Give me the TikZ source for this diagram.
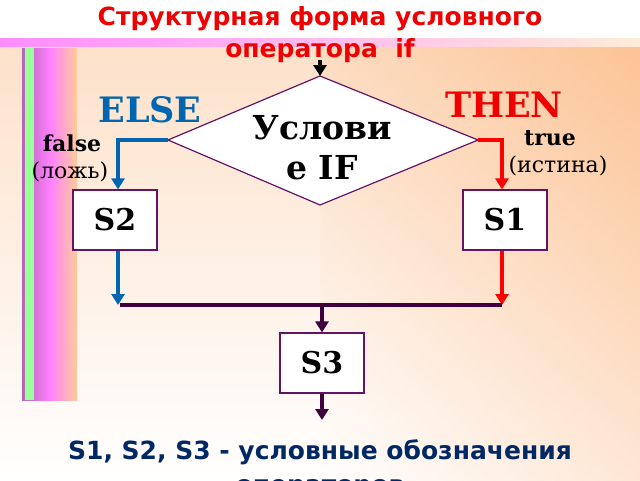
\documentclass[tikz,border=0pt]{standalone}
\usepackage{fontspec}
\setmainfont{DejaVu Serif}
\newfontfamily\dsans{DejaVu Sans}
\usetikzlibrary{arrows.meta}
\definecolor{ttl}{RGB}{240,0,0}
\definecolor{elsec}{RGB}{0,102,176}
\definecolor{bord}{RGB}{100,20,100}
\definecolor{bar}{RGB}{64,0,64}
\definecolor{navy}{RGB}{0,40,100}
\definecolor{peach}{RGB}{252,196,150}
\begin{document}
\begin{tikzpicture}[x=1pt,y=-1pt,
  box/.style={draw=bord,line width=1.2pt,fill=white,minimum width=84pt,minimum height=60pt,font=\bfseries\fontsize{30}{32}\selectfont},
  blk/.style={line width=3.5pt,-{Triangle[length=11pt,width=13pt]}},
  lbl/.style={font=\bfseries\fontsize{22}{24}\selectfont}]
\useasboundingbox (0,0) rectangle (640,480);
\shade[top color=peach,bottom color=white] (0,46) rectangle (640,480);
\shade[left color=white,right color=white,opacity=0.5] (0,46) rectangle (320,480);
\shade[left color=white,right color=peach,opacity=0.4] (320,46) rectangle (640,480);
\fill[white] (0,0) rectangle (640,38);
\shade[left color=magenta!45,right color=orange!15] (0,38) rectangle (640,46);
\shade[left color=violet!60,right color=orange!40,middle color=magenta!50] (22,48) rectangle (77,400);
\fill[green!40] (25,48) rectangle (34,400);
\node[font=\dsans\bfseries\fontsize{25}{32}\selectfont,text=ttl,align=center] (title) at (320,35) {Структурная форма условного\\оператора\ \ if};
\coordinate (in) at (320,60);
\coordinate (dt) at (320,76);
\coordinate (dl) at (168,140);
\coordinate (dr) at (478,140);
\coordinate (db) at (320,205);
\draw[draw=bord,line width=1.2pt,fill=white] (dt)--(dr)--(db)--(dl)--cycle;
\node[align=center,font=\bfseries\fontsize{33}{40}\selectfont] (cond) at (322,148) {Услови\\е IF};
\draw[blk] (in)--(dt);
\node[font=\bfseries\fontsize{35}{38}\selectfont,text=elsec] (else) at (150,110) {ELSE};
\node[font=\bfseries\fontsize{35}{38}\selectfont,text=ttl] (then) at (504,105) {THEN};
\node[lbl] (f) at (72,143) {false};
\node[font=\fontsize{22}{24}\selectfont] (fl) at (70,172) {(ложь)};
\node[lbl] (t) at (550,138) {true};
\node[font=\fontsize{22}{24}\selectfont] (tl) at (558,166) {(истина)};
\node[box] (s2) at (115,220) {S2};
\node[box] (s1) at (505,220) {S1};
\node[box] (s3) at (322,363) {S3};
\coordinate (j2) at (118,305);
\coordinate (j1) at (502,305);
\coordinate (jm) at (322,305);
\coordinate (out) at (322,420);
\draw[blk,elsec] (dl)--(118,140)--(s2.north-|118,0);
\draw[blk,red] (dr)--(502,140)--(s1.north-|502,0);
\draw[blk,elsec] (s2.south-|118,0)--(j2);
\draw[blk,red] (s1.south-|502,0)--(j1);
\draw[line width=4.5pt,bar] (120,305)--(j1);
\draw[blk,bar] (jm)--(s3);
\draw[blk,bar] (s3)--(out);
\node[font=\dsans\bfseries\fontsize{25}{34}\selectfont,text=navy,align=center,anchor=north] (note) at (320,436) {S1, S2, S3 - условные обозначения\\операторов};
\end{tikzpicture}
\end{document}
